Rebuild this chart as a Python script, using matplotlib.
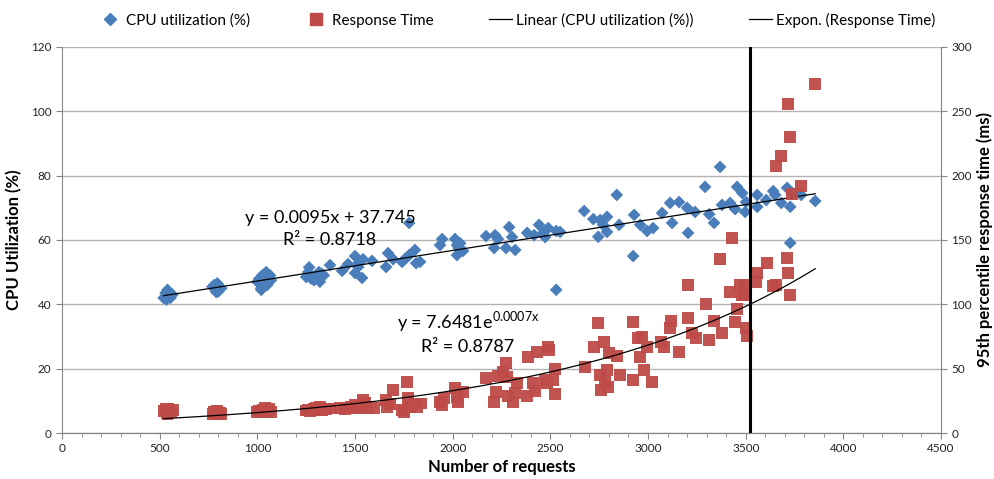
import numpy as np
import matplotlib
matplotlib.use("Agg")
import matplotlib.pyplot as plt
from matplotlib.lines import Line2D
from matplotlib.ticker import MultipleLocator

plt.rcParams['font.family'] = ['Lato', 'DejaVu Sans']
plt.rcParams['mathtext.fontset'] = 'custom'
plt.rcParams['mathtext.rm'] = 'Lato'

# CPU utilization (%) vs number of requests
cpu_x = [520, 530, 535, 540, 545, 550, 555, 565, 540, 530,
         770, 780, 785, 790, 795, 800, 805, 815, 790,
         1000, 1010, 1020, 1025, 1030, 1035, 1040, 1045, 1050, 1060, 1065, 1070, 1020,
         1250, 1260, 1265, 1275, 1290, 1300, 1310, 1315, 1320, 1330, 1340, 1270,
         1372, 1434, 1464, 1500, 1500, 1516, 1536, 1541, 1520, 1587, 1659, 1669, 1695,
         1741, 1777, 1777, 1760, 1807, 1813, 1833, 1946, 1935, 2012, 2022, 2022, 2053,
         2038, 2030, 2171, 2217, 2212, 2232, 2289, 2273, 2320, 2304, 2381, 2417, 2442,
         2473, 2489, 2530, 2530, 2460, 2550,
         2673, 2720, 2745, 2755, 2790, 2790, 2770, 2840, 2852, 2924, 2929, 2960, 2995,
         3026, 3072, 3113, 3123, 3159, 3200, 3205, 3241, 3292, 3313, 3338, 3369, 3379,
         3420, 3456, 3446, 3482, 3497, 3502, 3559, 3559, 3605, 3641, 3651, 3682, 3712,
         3728, 3728, 3738, 3784, 3856]
cpu_y = [42.0, 43.5, 41.5, 44.5, 42.5, 43.0, 42.0, 43.0, 43.8, 42.2,
         45.5, 46.0, 44.5, 45.0, 46.5, 44.0, 45.5, 45.0, 43.8,
         47.0, 48.0, 45.0, 49.0, 46.5, 48.5, 47.5, 50.0, 46.0, 48.0, 49.0, 47.5, 44.5,
         48.5, 50.0, 51.5, 48.0, 47.5, 49.0, 48.5, 50.0, 47.0, 49.5, 49.0, 49.0,
         52.2, 50.4, 52.5, 55.0, 49.7, 51.6, 48.2, 54.0, 53.0, 53.5, 51.6, 55.9, 54.0,
         53.2, 55.3, 65.3, 54.3, 56.9, 52.8, 53.2, 60.3, 58.4, 60.3, 58.4, 55.3, 56.6,
         59.0, 57.5, 61.2, 61.5, 57.5, 60.3, 64.0, 57.5, 56.9, 60.9, 62.2, 61.5, 64.7,
         60.9, 63.7, 62.8, 44.5, 62.0, 62.5,
         69.0, 66.5, 61.0, 66.2, 67.2, 62.5, 64.7, 74.0, 64.7, 55.0, 67.8, 64.7, 62.8,
         63.7, 68.4, 71.5, 65.3, 71.8, 70.0, 62.2, 68.7, 76.5, 68.0, 65.3, 82.7, 70.9,
         71.5, 76.5, 69.6, 74.6, 68.7, 71.8, 74.0, 70.3, 72.4, 75.2, 74.0, 71.5, 76.2,
         70.3, 59.1, 74.6, 74.0, 72.1]

# 95th percentile response time (ms) vs number of requests
rt_x = [520, 530, 535, 540, 545, 550, 560, 570, 540,
        770, 780, 790, 795, 800, 810, 815,
        1000, 1010, 1020, 1030, 1040, 1050, 1060, 1070,
        1250, 1260, 1270, 1290, 1300, 1310, 1320, 1330, 1350, 1370,
        1420, 1450, 1480, 1500, 1510, 1530, 1541, 1550, 1560, 1600,
        1660, 1664, 1680, 1695, 1741, 1750, 1767, 1772, 1782, 1807, 1838, 1818,
        1935, 1946, 1956, 2012, 2022, 2028, 2053, 2171, 2212, 2222, 2232, 2258, 2273,
        2278, 2284, 2309, 2320, 2330, 2381, 2386, 2412, 2422, 2432, 2473, 2489, 2494,
        2483, 2514, 2524, 2524, 2678, 2724, 2745, 2755, 2760, 2775, 2780, 2790, 2800,
        2796, 2842, 2857, 2924, 2924, 2950,
        2970, 2960, 2980, 3021, 2995, 3067, 3082, 3113, 3118, 3159, 3205, 3205, 3226,
        3246, 3297, 3313, 3338, 3369, 3379, 3420, 3430, 3446, 3456, 3472, 3482, 3497,
        3492, 3502, 3507, 3553, 3559, 3610, 3641, 3656, 3656, 3682, 3712, 3717, 3728,
        3717, 3728, 3738, 3784, 3856]
rt_y = [17.0, 18.5, 15.5, 16.5, 19.0, 17.5, 16.0, 18.0, 14.5,
        15.0, 16.5, 14.5, 17.0, 15.5, 16.0, 14.5,
        16.5, 17.5, 16.0, 18.0, 19.5, 17.0, 18.5, 16.5,
        17.5, 18.0, 17.0, 18.5, 19.5, 17.5, 20.0, 18.0, 18.5, 19.0,
        19.5, 18.5, 20.0, 21.5, 19.0, 20.0, 26.0, 23.5, 19.5, 19.5,
        25.6, 20.0, 22.5, 33.4, 17.9, 16.5, 39.6, 27.0, 20.2, 23.0, 23.0, 20.5,
        24.0, 21.8, 27.0, 35.0, 28.0, 24.0, 31.9, 42.7, 24.0, 31.9, 44.3, 47.4, 54.4,
        43.5, 28.7, 24.0, 31.0, 38.9, 28.7, 59.0, 38.9, 32.6, 63.0, 41.0, 66.8, 64.5,
        38.9, 41.0, 30.3, 49.7, 51.3, 66.8, 85.5, 45.0, 33.4, 70.7, 39.6, 49.0, 62.0,
        35.7, 59.8, 45.0, 41.0, 86.2, 73.8,
        74.6, 59.0, 49.0, 39.6, 66.8, 70.7, 66.8, 81.6, 87.0, 63.0, 89.4, 115.0, 77.7,
        73.8, 100.2, 72.3, 87.0, 135.2, 77.7, 109.6, 151.5, 86.2, 96.3, 115.0, 107.2, 115.0,
        107.2, 81.6, 75.4, 117.3, 124.3, 132.1, 114.2, 115.0, 207.5, 215.2, 136.0, 124.3, 107.2,
        255.6, 230.0, 185.7, 191.9, 271.2]

# trend line coefficients as shown on the chart
lin_slope, lin_icpt = 0.0095, 37.745
exp_a, exp_b = 7.6481, 0.00073
load_limit = 3520

blue = '#4a7ebb'
red = '#be4b48'
grid_c = '#b3b3b3'
axis_c = '#868686'

fig = plt.figure(figsize=(9.94, 4.79), dpi=100)
ax = fig.add_axes([0.0624, 0.096, 0.8843, 0.806])
ax2 = ax.twinx()

ax.scatter(cpu_x, cpu_y, marker='D', s=42, color=blue, edgecolors='none', zorder=3)
ax2.scatter(rt_x, rt_y, marker='s', s=72, color=red, edgecolors='none', alpha=0.95, zorder=3)

xs = np.linspace(min(cpu_x), max(cpu_x), 200)
ax.plot(xs, lin_slope * xs + lin_icpt, color='black', lw=0.9, zorder=4)
xr = np.linspace(min(rt_x), max(rt_x), 200)
ax2.plot(xr, exp_a * np.exp(exp_b * xr), color='black', lw=0.9, zorder=4)
ax2.axvline(load_limit, color='black', lw=2.2, zorder=5)

ax.set_xlim(0, 4500)
ax.set_ylim(0, 120)
ax2.set_ylim(0, 300)
ax.xaxis.set_major_locator(MultipleLocator(500))
ax.xaxis.set_minor_locator(MultipleLocator(100))
ax.yaxis.set_major_locator(MultipleLocator(20))
ax2.yaxis.set_major_locator(MultipleLocator(50))
ax.grid(axis='y', color=grid_c, lw=1.0)
ax.set_axisbelow(True)

for a in (ax, ax2):
    a.spines['top'].set_visible(False)
    for s in ('left', 'right', 'bottom'):
        a.spines[s].set_color(axis_c)
    a.tick_params(colors=axis_c, labelcolor='#222222', labelsize=8.5, direction='out', length=4)
ax.tick_params(axis='x', which='minor', length=3, colors=axis_c)
ax2.spines['left'].set_visible(False)
ax.spines['right'].set_visible(False)

ax.set_xlabel('Number of requests', fontsize=12, fontweight='bold', labelpad=3)
ax.set_ylabel('CPU Utilization (%)', fontsize=12, fontweight='bold', labelpad=6)
ax2.set_ylabel('95th percentile response time (ms)', fontsize=12, fontweight='bold', labelpad=3)

ax.text(1372, 66.8, 'y = 0.0095x + 37.745', fontsize=13, ha='center', va='center')
ax.text(1372, 60.0, 'R² = 0.8718', fontsize=13, ha='center', va='center')
ax.text(2079, 34.5, 'y = 7.6481e$^{\\mathrm{0.0007x}}$', fontsize=13, ha='center', va='center')
ax.text(2079, 26.7, 'R² = 0.8787', fontsize=13, ha='center', va='center')

handles = [
    Line2D([], [], marker='D', color=blue, ls='none', markersize=6),
    Line2D([], [], marker='s', color=red, ls='none', markersize=8),
    Line2D([], [], color='black', lw=0.9),
    Line2D([], [], color='black', lw=0.9),
]
labels = ['CPU utilization (%)', 'Response Time', 'Linear (CPU utilization (%))',
          'Expon. (Response Time)']
fig.legend(handles, labels, loc='center', bbox_to_anchor=(0.52, 0.958), ncol=4,
           frameon=False, fontsize=11, handlelength=1.5, handletextpad=0.3,
           columnspacing=3.6)

fig.savefig('out.png', dpi=100)
